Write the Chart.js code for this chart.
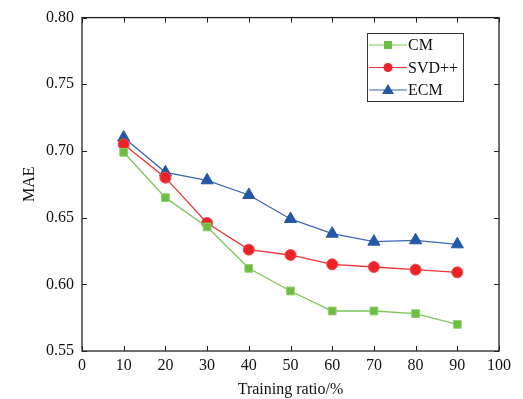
<!DOCTYPE html>
<html>
<head>
<meta charset="utf-8">
<script src="https://cdn.jsdelivr.net/npm/chart.js@4"></script>
<style>
  html, body { margin: 0; padding: 0; background: #fff; }
  #wrap { width: 523px; height: 399px; }
</style>
</head>
<body>
<div id="wrap"><canvas id="maeChart" width="523" height="399"></canvas></div>
<script>
// training ratio (%)
var ratios = [10, 20, 30, 40, 50, 60, 70, 80, 90];
var cmMAE  = [0.699, 0.665, 0.643, 0.612, 0.595, 0.580, 0.580, 0.578, 0.570];
var svdMAE = [0.705, 0.680, 0.646, 0.626, 0.622, 0.615, 0.613, 0.611, 0.609];
var ecmMAE = [0.710, 0.684, 0.678, 0.667, 0.649, 0.638, 0.632, 0.633, 0.630];

var FONT = "'Liberation Serif', 'Times New Roman', serif";

function pts(ys) {
  return ratios.map(function (x, i) { return { x: x, y: ys[i] }; });
}

// box frame with inward ticks on all four sides, plus the boxed legend
const frame = {
  id: 'frame',
  afterDraw(chart) {
    const c = chart.ctx, a = chart.chartArea;
    const sx = chart.scales.x, sy = chart.scales.y;
    c.save();
    c.strokeStyle = '#222';
    c.lineWidth = 1.3;
    c.strokeRect(a.left, a.top, a.right - a.left, a.bottom - a.top);
    c.lineWidth = 1;
    c.beginPath();
    sx.ticks.forEach(function (t) {
      const px = Math.round(sx.getPixelForValue(t.value)) + 0.5;
      c.moveTo(px, a.bottom); c.lineTo(px, a.bottom - 5);
      c.moveTo(px, a.top); c.lineTo(px, a.top + 5);
    });
    sy.ticks.forEach(function (t) {
      const py = Math.round(sy.getPixelForValue(t.value)) + 0.5;
      c.moveTo(a.left, py); c.lineTo(a.left + 5, py);
      c.moveTo(a.right, py); c.lineTo(a.right - 5, py);
    });
    c.stroke();

    // legend box
    const lx = 367, ly = 33, lw = 96, lh = 68;
    c.lineWidth = 1;
    c.strokeStyle = '#333';
    c.strokeRect(lx + 0.5, ly + 0.5, lw, lh);
    c.font = '16px ' + FONT;
    c.textBaseline = 'middle';
    chart.data.datasets.forEach(function (ds, i) {
      const yy = ly + 12 + i * 22.5;
      c.strokeStyle = ds.borderColor;
      c.lineWidth = 1.2;
      c.beginPath(); c.moveTo(lx + 2, yy); c.lineTo(lx + 40, yy); c.stroke();
      c.fillStyle = ds.pointBackgroundColor;
      const mx = lx + 21;
      if (ds.pointStyle === 'rect') {
        c.fillRect(mx - 4, yy - 4, 8, 8);
      } else if (ds.pointStyle === 'circle') {
        c.beginPath(); c.arc(mx, yy, 4.5, 0, Math.PI * 2); c.fill();
      } else {
        c.beginPath(); c.moveTo(mx, yy - 6); c.lineTo(mx + 6, yy + 4); c.lineTo(mx - 6, yy + 4); c.closePath(); c.fill();
      }
      c.fillStyle = '#111';
      c.fillText(ds.label, lx + 41, yy + 1);
    });
    c.restore();
  }
};

new Chart(document.getElementById('maeChart'), {
  type: 'line',
  data: {
    datasets: [
      {
        label: 'CM',
        data: pts(cmMAE),
        borderColor: '#7cc55a',
        borderWidth: 1.3,
        pointStyle: 'rect',
        pointRadius: 5.5,
        pointBackgroundColor: '#6dbd45',
        pointBorderColor: '#8fd16e',
        pointBorderWidth: 1,
        tension: 0
      },
      {
        label: 'SVD++',
        data: pts(svdMAE),
        borderColor: '#ee3338',
        borderWidth: 1.3,
        pointStyle: 'circle',
        pointRadius: 5.5,
        pointBackgroundColor: '#ec2227',
        pointBorderColor: '#f04a4e',
        pointBorderWidth: 1,
        tension: 0
      },
      {
        label: 'ECM',
        data: pts(ecmMAE),
        borderColor: '#3b68b0',
        borderWidth: 1.3,
        pointStyle: 'triangle',
        pointRadius: 7,
        pointBackgroundColor: '#2457a6',
        pointBorderColor: '#2457a6',
        pointBorderWidth: 1,
        tension: 0
      }
    ]
  },
  options: {
    responsive: false,
    animation: false,
    layout: { padding: { top: 11, right: 24, bottom: 0, left: 0 } },
    plugins: {
      legend: { display: false },
      tooltip: { enabled: false }
    },
    scales: {
      x: {
        type: 'linear',
        min: 0, max: 100,
        ticks: { stepSize: 10, color: '#111', font: { family: FONT, size: 16 }, padding: 5, maxRotation: 0 },
        grid: { display: false, drawTicks: false },
        border: { display: false },
        title: { display: true, text: 'Training ratio/%', color: '#111', font: { family: FONT, size: 16 }, padding: { top: 5, bottom: 0 } },
        afterFit(s) { s.height = 48; }
      },
      y: {
        min: 0.55, max: 0.80,
        ticks: {
          stepSize: 0.05, color: '#111', padding: 8,
          font: { family: FONT, size: 16 },
          callback: function (v) { return v.toFixed(2); }
        },
        grid: { display: false, drawTicks: false },
        border: { display: false },
        title: { display: true, text: 'MAE', color: '#111', font: { family: FONT, size: 16 }, padding: { top: 20, bottom: 0 } },
        afterFit(s) { s.width = 82; }
      }
    }
  },
  plugins: [frame]
});
</script>
</body>
</html>
